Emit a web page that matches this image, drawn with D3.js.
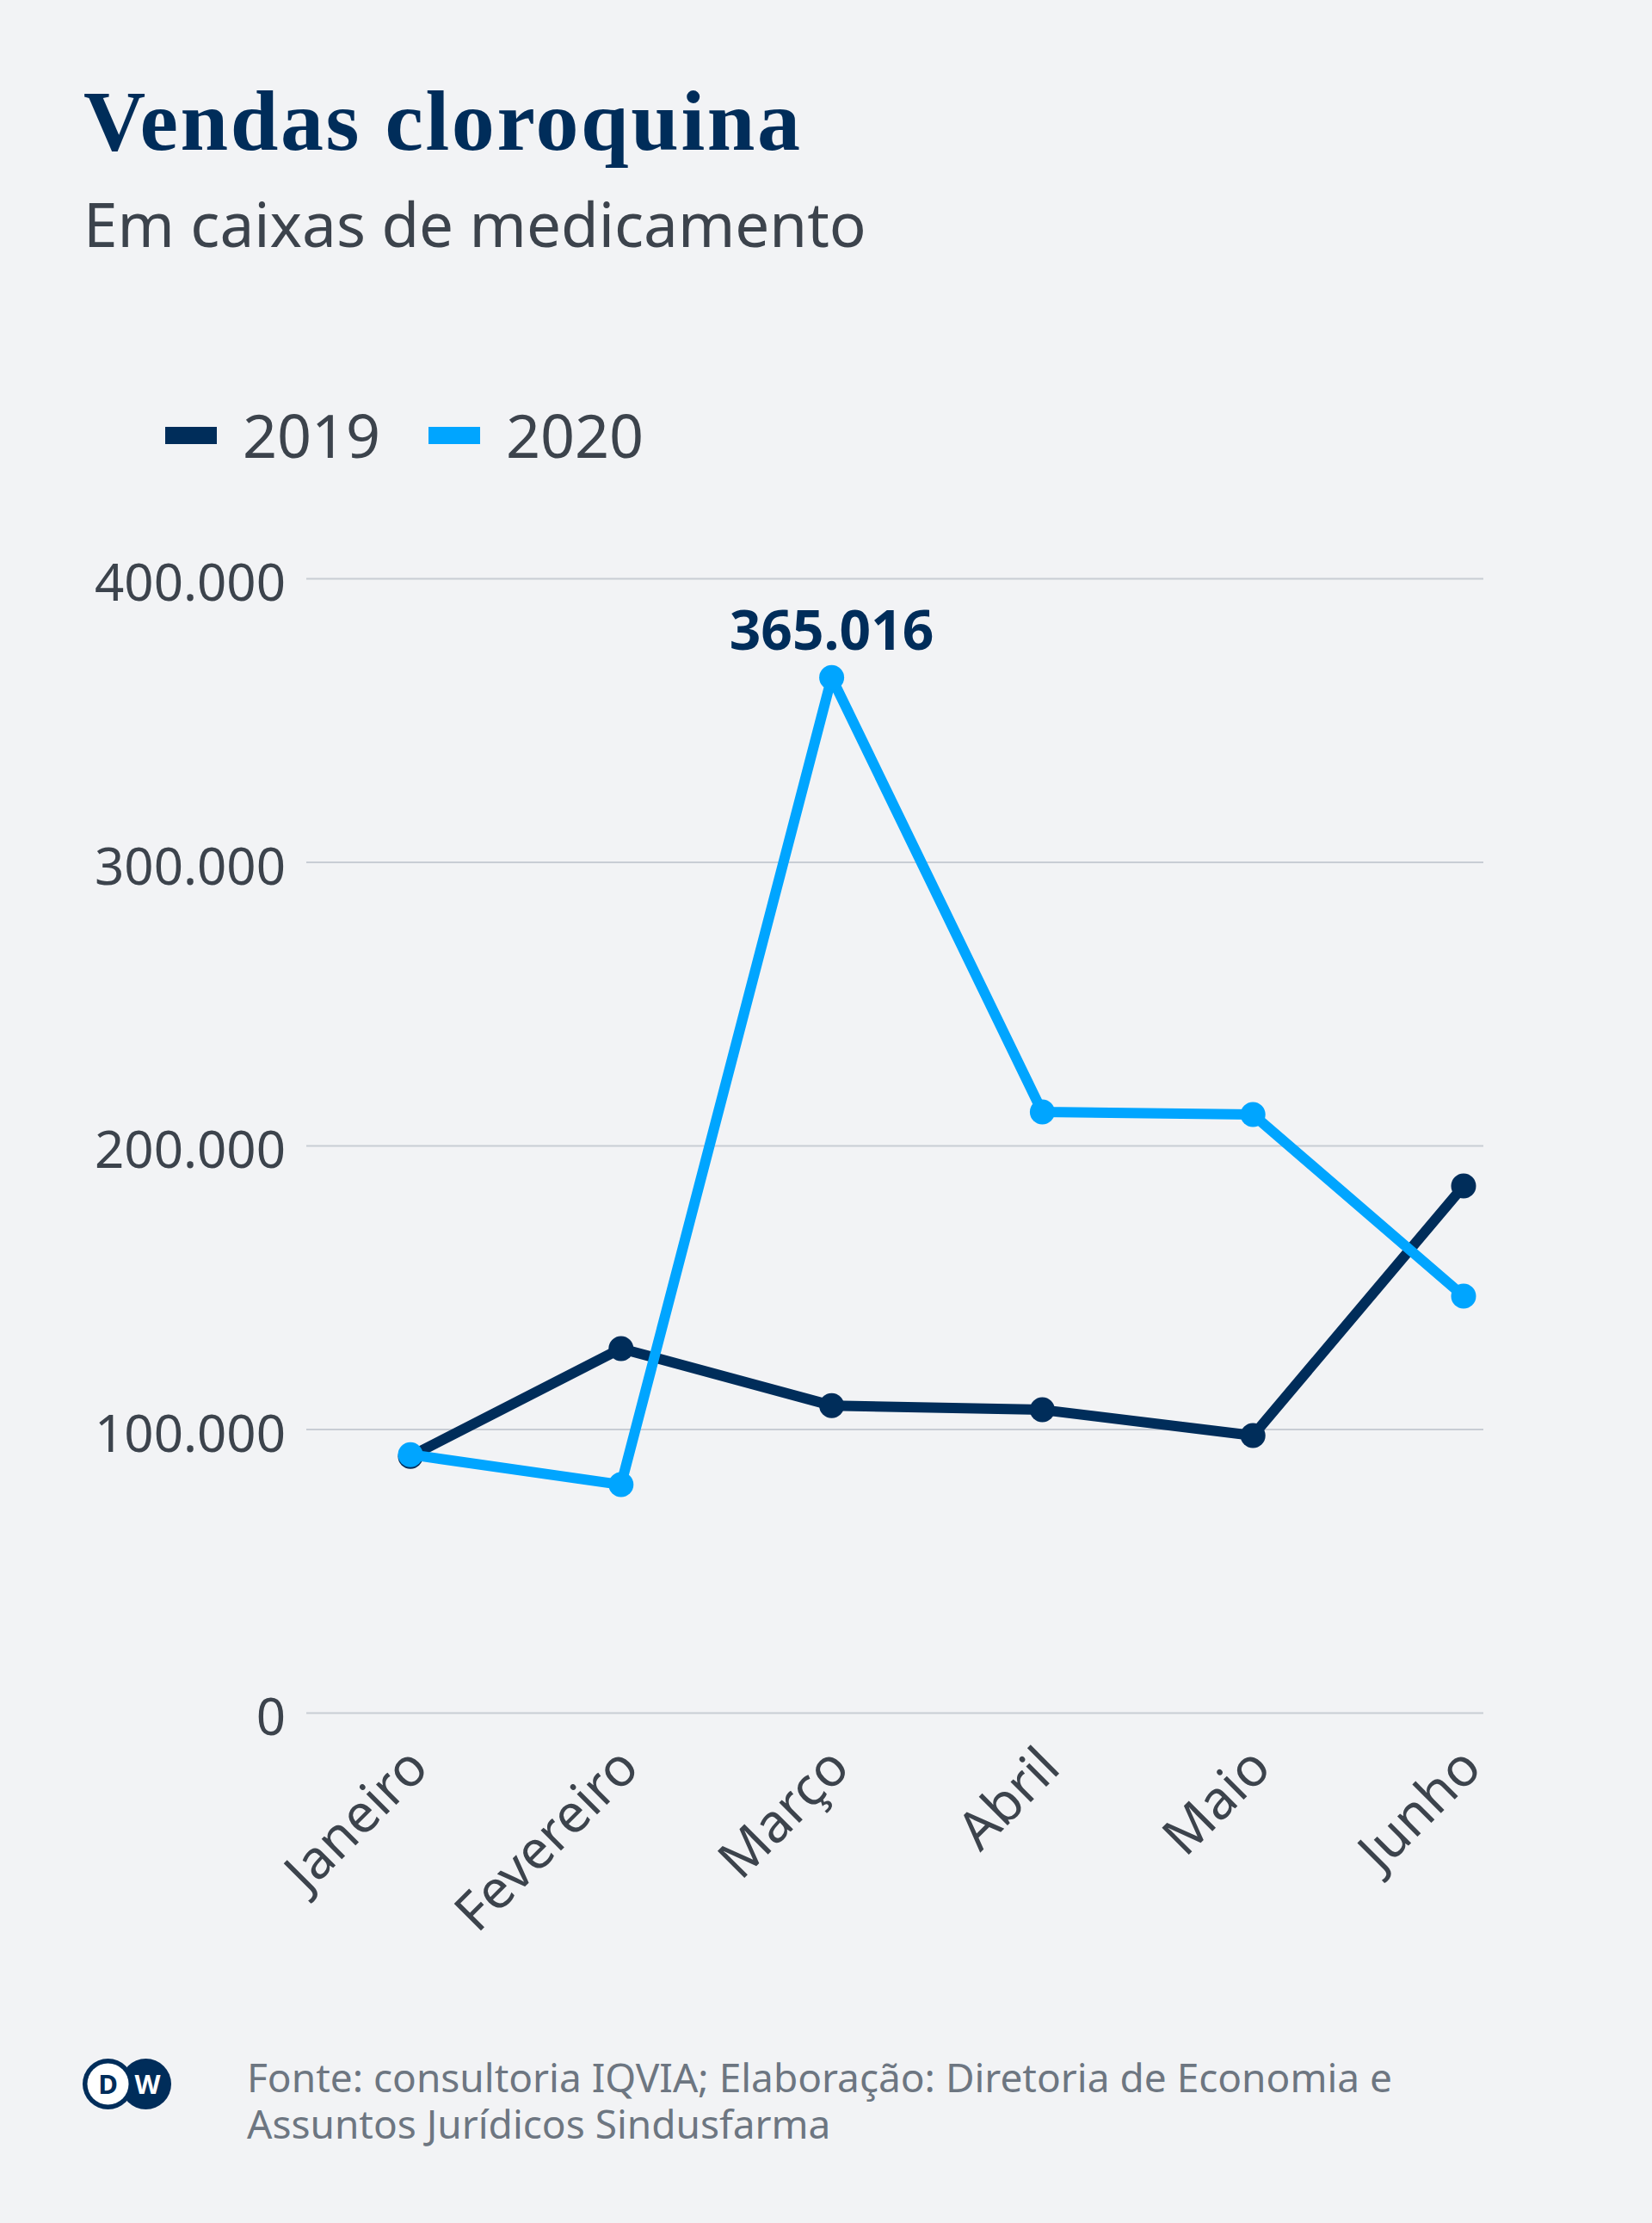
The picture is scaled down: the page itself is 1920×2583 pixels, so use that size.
<!DOCTYPE html>
<html>
<head>
<meta charset="utf-8">
<script src="https://cdn.jsdelivr.net/npm/d3@7"></script>
<style>
  html, body { margin: 0; padding: 0; background: #f2f3f5; }
  svg { display: block; }
  text { font-family: "Noto Sans", sans-serif; }
</style>
</head>
<body>
<script>
// data
let months = ["Janeiro", "Fevereiro", "Março", "Abril", "Maio", "Junho"];
let sales2019 = [90400, 128400, 108300, 106800, 97700, 185700];
let sales2020 = [91000, 80400, 365016, 211800, 210900, 146900];
let seriesNames = ["2019", "2020"];
let yTicks = [0, 100000, 200000, 300000, 400000];
let sourceLines = [
  "Fonte: consultoria IQVIA; Elaboração: Diretoria de Economia e",
  "Assuntos Jurídicos Sindusfarma"
];

let size = {width: 1920, height: 2583};
let colors = {navy: "#002d5a", blue: "#00a5ff", text: "#3c434c", grid: "#c8cdd4", note: "#6d7681"};
let plot = {left: 356, right: 1724, top: 672, bottom: 1990};

let br = d3.formatLocale({decimal: ",", thousands: ".", grouping: [3], currency: ["R$", ""]});
let fmt = br.format(",.0f");

let svg = d3.select("body").append("svg")
    .attr("width", size.width).attr("height", size.height);
svg.append("rect").attr("width", size.width).attr("height", size.height).attr("fill", "#f2f3f5");

// title block
svg.append("text")
    .attr("x", 97).attr("y", 174)
    .style("font-family", "'Liberation Serif', serif")
    .attr("font-weight", "bold").attr("font-size", 100)
    .attr("textLength", 833).attr("lengthAdjust", "spacing")
    .attr("fill", colors.navy)
    .text("Vendas cloroquina");
svg.append("text")
    .attr("x", 97).attr("y", 287)
    .attr("font-size", 71).attr("fill", colors.text)
    .text("Em caixas de medicamento");

// legend
let legend = svg.append("g").selectAll("g")
    .data(seriesNames).join("g")
    .attr("transform", (d, i) => `translate(${192 + i * 306},0)`);
legend.append("rect")
    .attr("x", 0).attr("y", 496).attr("width", 60).attr("height", 20)
    .attr("fill", (d, i) => i ? colors.blue : colors.navy);
legend.append("text")
    .attr("x", 90).attr("y", 532)
    .attr("font-size", 70).attr("fill", colors.text)
    .text(d => d);

// scales
let x = d3.scalePoint().domain(months).range([477, 1701]);
let y = d3.scaleLinear().domain([0, 400000]).range([plot.bottom, plot.top]);

// y axis with grid
let yAxis = svg.append("g")
    .attr("transform", `translate(${plot.right},0)`)
    .call(d3.axisLeft(y).tickValues(yTicks).tickFormat(fmt)
        .tickSize(plot.right - plot.left).tickPadding(24));
yAxis.select(".domain").remove();
yAxis.selectAll(".tick line").attr("stroke", colors.grid).attr("stroke-width", 2);
yAxis.selectAll(".tick text")
    .attr("font-family", "Noto Sans").attr("font-size", 60)
    .attr("fill", colors.text).attr("dy", "0.43em");

// x axis labels
let xAxis = svg.append("g")
    .attr("transform", `translate(0,${plot.bottom})`)
    .call(d3.axisBottom(x).tickSize(0));
xAxis.select(".domain").remove();
xAxis.selectAll(".tick text")
    .attr("font-family", "Noto Sans").attr("font-size", 62)
    .attr("fill", colors.text)
    .attr("x", 0).attr("y", 0).attr("dy", 0)
    .attr("text-anchor", "end")
    .attr("transform", "translate(23,67) rotate(-45)");

// lines
let line = d3.line().x((d, i) => x(months[i])).y(d => y(d));
let series = [
  {name: "2019", values: sales2019, color: colors.navy},
  {name: "2020", values: sales2020, color: colors.blue}
];
let sg = svg.append("g").selectAll("g").data(series).join("g");
sg.append("path")
    .attr("d", d => line(d.values))
    .attr("fill", "none")
    .attr("stroke", d => d.color)
    .attr("stroke-width", 12)
    .attr("stroke-linejoin", "round");
sg.selectAll("circle")
    .data(d => d.values.map((v, i) => ({v, i, color: d.color})))
    .join("circle")
    .attr("cx", d => x(months[d.i]))
    .attr("cy", d => y(d.v))
    .attr("r", 14.5)
    .attr("fill", d => d.color);

// peak annotation
let peak = d3.maxIndex(sales2020);
svg.append("text")
    .attr("x", x(months[peak])).attr("y", y(sales2020[peak]) - 32)
    .attr("text-anchor", "middle")
    .attr("font-size", 64).attr("font-weight", "bold")
    .attr("fill", colors.navy)
    .text(fmt(sales2020[peak]));

// DW logo
let logo = svg.append("g").attr("transform", "translate(125.5,2421.5)");
logo.append("circle").attr("cx", 44).attr("r", 29.5).attr("fill", colors.navy);
logo.append("circle").attr("r", 29.5).attr("fill", colors.navy);
logo.append("circle").attr("r", 24).attr("fill", "#ffffff");
logo.append("text").attr("x", 0).attr("y", 11)
    .attr("text-anchor", "middle").attr("font-size", 31).attr("font-weight", "bold")
    .attr("fill", colors.navy).text("D");
logo.append("text").attr("x", 46).attr("y", 11)
    .attr("text-anchor", "middle").attr("font-size", 31).attr("font-weight", "bold")
    .attr("fill", "#ffffff").text("W");

// source
svg.append("g").selectAll("text")
    .data(sourceLines).join("text")
    .attr("x", 287).attr("y", (d, i) => 2431 + i * 54)
    .attr("font-size", 46).attr("fill", colors.note)
    .text(d => d);
</script>
</body>
</html>
